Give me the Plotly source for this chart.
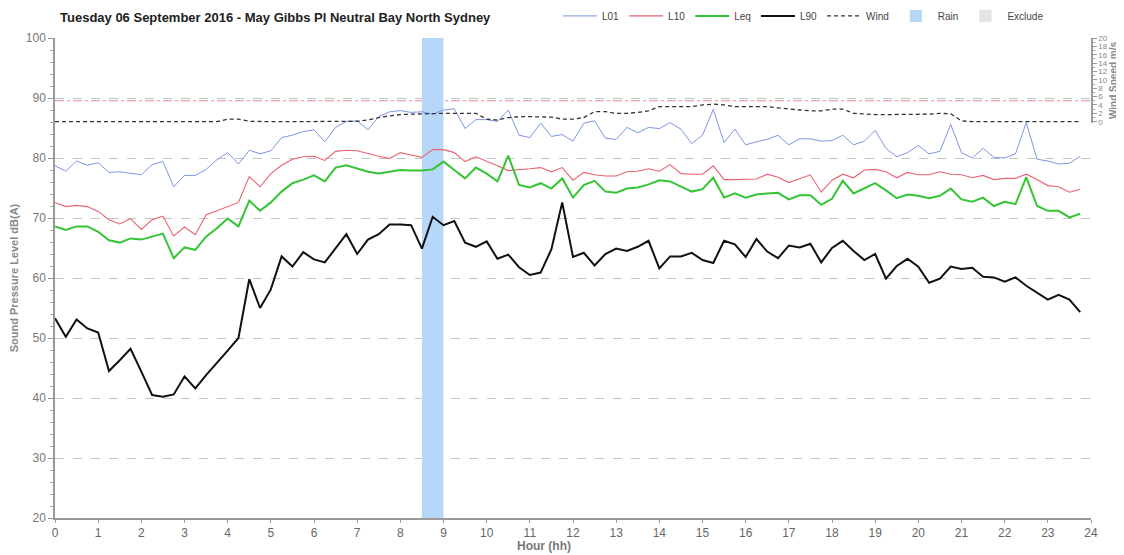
import plotly.graph_objects as go

# ---------------- data (15-minute intervals, 00:00 .. 23:45) ----------------
interval_h = 0.25
L01 = [78.7, 77.8, 79.5, 78.8, 79.2, 77.6, 77.7, 77.5, 77.2, 78.9,
       79.4, 75.2, 77.1, 77.1, 78.1, 79.7, 80.9, 79.0, 81.3, 80.7,
       81.2, 83.4, 83.8, 84.4, 84.7, 82.7, 85.1, 86.1, 86.2, 84.7,
       86.9, 87.7, 87.9, 87.6, 87.7, 87.3, 88.0, 88.2, 84.9, 86.4,
       86.4, 86.1, 88.0, 83.8, 83.4, 85.8, 83.6, 83.9, 82.8, 85.8,
       86.2, 83.3, 83.1, 85.1, 84.2, 85.1, 84.9, 85.9, 84.8, 82.4,
       83.8, 88.1, 82.6, 84.8, 82.2, 82.7, 83.1, 83.8, 82.2, 83.2,
       83.2, 82.8, 82.9, 83.8, 82.2, 82.8, 84.6, 81.6, 80.2, 80.9,
       82.1, 80.7, 81.1, 85.6, 80.9, 80.0, 81.6, 80.1, 80.0, 80.7,
       85.9, 79.8, 79.5, 79.0, 79.1, 80.3]
L10 = [72.6, 71.9, 72.1, 71.9, 71.1, 69.7, 69.0, 69.9, 68.1, 69.7,
       70.3, 67.0, 68.5, 67.2, 70.5, 71.2, 72.0, 72.6, 76.9, 75.2,
       77.4, 78.8, 79.8, 80.2, 80.3, 79.6, 81.1, 81.3, 81.2, 80.7,
       80.3, 79.9, 80.9, 80.5, 80.1, 81.4, 81.4, 80.9, 79.4, 80.2,
       79.5, 78.7, 77.9, 78.0, 78.2, 78.4, 77.7, 78.4, 76.3, 77.6,
       77.2, 77.0, 77.0, 77.7, 77.8, 78.2, 77.8, 78.9, 77.4, 77.3,
       77.3, 78.7, 76.4, 76.4, 76.4, 76.5, 77.3, 76.8, 75.9, 76.6,
       77.2, 74.3, 76.3, 77.3, 76.7, 78.0, 78.1, 77.7, 76.7, 77.6,
       77.2, 77.2, 77.7, 77.3, 77.2, 76.7, 77.1, 76.4, 76.6, 76.6,
       77.3, 76.4, 75.4, 75.2, 74.3, 74.8]
Leq = [68.6, 68.0, 68.6, 68.6, 67.7, 66.3, 65.9, 66.6, 66.4, 66.9,
       67.4, 63.3, 65.1, 64.7, 66.9, 68.3, 69.9, 68.6, 72.9, 71.2,
       72.6, 74.4, 75.8, 76.4, 77.1, 76.1, 78.4, 78.8, 78.3, 77.7,
       77.4, 77.7, 78.0, 77.9, 77.9, 78.1, 79.4, 78.0, 76.6, 78.4,
       77.4, 76.1, 80.4, 75.5, 75.1, 75.8, 74.9, 76.6, 73.4, 75.5,
       76.2, 74.4, 74.2, 74.9, 75.1, 75.6, 76.3, 76.1, 75.3, 74.4,
       74.8, 76.7, 73.4, 74.1, 73.4, 73.9, 74.1, 74.2, 73.1, 73.8,
       73.8, 72.2, 73.2, 76.2, 74.1, 74.9, 75.8, 74.6, 73.3, 73.9,
       73.7, 73.3, 73.7, 74.9, 73.1, 72.7, 73.4, 72.0, 72.7, 72.3,
       76.8, 72.0, 71.2, 71.2, 70.1, 70.7]
L90 = [53.3, 50.2, 53.1, 51.6, 50.9, 44.5, 46.3, 48.2, 44.4, 40.5,
       40.2, 40.6, 43.6, 41.6, 43.8, 45.8, 47.9, 50.0, 59.8, 55.0,
       58.1, 63.6, 61.9, 64.3, 63.1, 62.6, 64.9, 67.3, 64.0, 66.4,
       67.3, 68.9, 68.9, 68.8, 64.9, 70.2, 68.8, 69.5, 65.9, 65.2,
       66.1, 63.2, 63.9, 61.8, 60.5, 60.9, 64.8, 72.6, 63.5, 64.2,
       62.1, 64.0, 64.9, 64.5, 65.2, 66.2, 61.6, 63.6, 63.6, 64.2,
       63.0, 62.5, 66.2, 65.6, 63.5, 66.5, 64.4, 63.3, 65.4, 65.1,
       65.7, 62.6, 65.0, 66.2, 64.5, 63.0, 64.0, 59.9, 62.0, 63.2,
       61.9, 59.2, 59.9, 61.9, 61.5, 61.7, 60.2, 60.1, 59.4, 60.1,
       58.7, 57.5, 56.4, 57.2, 56.4, 54.3]
Wind = [0, 0, 0, 0, 0, 0, 0, 0, 0, 0,
        0, 0, 0, 0, 0, 0.0, 0.6, 0.6, 0.1, 0,
        0, 0, 0, 0, 0, 0, 0, 0.0, 0.1, 0.4,
        1.0, 1.4, 1.7, 1.8, 1.9, 2.0, 2.0, 2.0, 2.0, 2.0,
        0.6, 0.4, 1.0, 1.2, 1.2, 1.2, 1.1, 0.6, 0.6, 1.0,
        2.4, 2.4, 2.0, 2.0, 2.2, 2.6, 3.6, 3.6, 3.6, 3.6,
        4.0, 4.2, 4.0, 3.6, 3.6, 3.6, 3.6, 3.3, 3.0, 2.8,
        2.6, 2.6, 3.0, 3.0, 2.0, 1.8, 1.7, 1.7, 1.7, 1.7,
        1.7, 1.8, 2.0, 1.9, 0.2, 0, 0, 0, 0, 0,
        0, 0, 0, 0, 0, 0]
hours = [k * interval_h for k in range(len(L90))]

rain_start, rain_end = 8.5, 9.0          # hours with rain
wind_limit = 5                           # m/s threshold line
hour_ticks = list(range(0, 25))
spl_ticks = [20, 30, 40, 50, 60, 70, 80, 90, 100]
wind_ticks = [0, 2, 4, 6, 8, 10, 12, 14, 16, 18, 20]

title_text = "Tuesday 06 September 2016 - May Gibbs Pl Neutral Bay North Sydney"
x_title = "Hour (hh)"
y_title = "Sound Pressure Level dB(A)"
y2_title = "Wind Speed m/s"

# ---------------- figure ----------------
FONT = "Liberation Sans, Arial, sans-serif"
NARROW = "Liberation Sans Narrow, Arial Narrow, Liberation Sans, sans-serif"

# the page adds an 8 px body margin, so the figure is sized to fit inside it
W, H = 1116, 547

fig = go.Figure()

fig.add_trace(go.Bar(x=[(rain_start + rain_end) / 2], y=[spl_ticks[-1] - spl_ticks[0]],
                     base=[spl_ticks[0]], width=[rain_end - rain_start],
                     marker=dict(color="#b7d7f8", line=dict(width=0)),
                     name="Rain", legendrank=6, hoverinfo="skip"))
fig.add_trace(go.Bar(x=[None], y=[None], marker=dict(color="#e3e3e3"),
                     name="Exclude", legendrank=7))

fig.add_trace(go.Scatter(x=hours, y=L01, mode="lines", name="L01",
                         line=dict(color="#7b96e4", width=1), legendrank=1))
fig.add_trace(go.Scatter(x=hours, y=L10, mode="lines", name="L10",
                         line=dict(color="#e8646e", width=1.1), legendrank=2))
fig.add_trace(go.Scatter(x=hours, y=Leq, mode="lines", name="Leq",
                         line=dict(color="#35c435", width=2), legendrank=3))
fig.add_trace(go.Scatter(x=hours, y=L90, mode="lines", name="L90",
                         line=dict(color="#111111", width=2), legendrank=4))
fig.add_trace(go.Scatter(x=hours, y=Wind, mode="lines", name="Wind", yaxis="y2",
                         line=dict(color="#333333", width=1.3, dash="4px,3px"),
                         legendrank=5))

fig.add_shape(type="line", xref="paper", x0=0, x1=1, yref="y2",
              y0=wind_limit, y1=wind_limit,
              line=dict(color="#e58a8a", width=1, dash="dashdot"), layer="below")

fig.add_annotation(text="<b>" + x_title + "</b>", xref="paper", yref="paper",
                   x=0.472, y=-0.058, xanchor="center", yanchor="middle",
                   showarrow=False, font=dict(family=NARROW, size=12, color="#777"))

fig.update_layout(
    width=W, height=H,
    margin=dict(l=47, r=33, t=30, b=37, autoexpand=False),
    paper_bgcolor="white", plot_bgcolor="rgba(0,0,0,0)",
    font=dict(family=FONT, size=11, color="#333"),
    showlegend=True,
    barmode="overlay",
    title=dict(text="<b>" + title_text + "</b>", x=52 / W, xanchor="left",
               xref="container", y=1 - 9 / H, yanchor="middle", yref="container",
               pad=dict(l=0, r=0, t=0, b=0),
               font=dict(family=FONT, size=13, color="#222")),
    legend=dict(orientation="h", x=0.4855, xanchor="left", y=1.046, yanchor="middle",
                traceorder="normal",
                font=dict(family=FONT, size=10, color="#444"),
                bgcolor="rgba(0,0,0,0)", itemwidth=34),
    xaxis=dict(range=[0, 24], tickvals=hour_ticks, showgrid=False, zeroline=False,
               automargin=False,
               showline=True, linecolor="#9a9a9a", linewidth=1.5,
               ticks="outside", ticklen=3, tickcolor="#9a9a9a",
               tickfont=dict(family=NARROW, size=12, color="#666")),
    yaxis=dict(range=[20, 100], tickvals=spl_ticks, showgrid=True, automargin=False,
               gridcolor="#c4c4c4", griddash="dash", gridwidth=1, zeroline=False,
               showline=True, linecolor="#9a9a9a", linewidth=1.5,
               ticks="outside", ticklen=5, tickcolor="#9a9a9a",
               minor=dict(dtick=2, ticks="outside", ticklen=3, tickcolor="#aaa",
                          showgrid=False),
               tickfont=dict(family=FONT, size=12, color="#777"),
               title=dict(text="<b>" + y_title + "</b>", standoff=8,
                          font=dict(family=FONT, size=11, color="#888"))),
    yaxis2=dict(domain=[0.823, 1], range=[-0.3, 20], anchor="x", side="right",
                automargin=False,
                tickvals=wind_ticks, showgrid=False, zeroline=False,
                showline=True, linecolor="#9a9a9a", linewidth=1.5,
                ticks="outside", ticklen=4, tickcolor="#9a9a9a",
                minor=dict(dtick=1, ticks="outside", ticklen=2, tickcolor="#aaa"),
                tickfont=dict(family=FONT, size=8, color="#888"),
                title=dict(text="<b>" + y2_title + "</b>", standoff=2,
                           font=dict(family=FONT, size=10, color="#888"))),
)

fig.write_html("out.html")
